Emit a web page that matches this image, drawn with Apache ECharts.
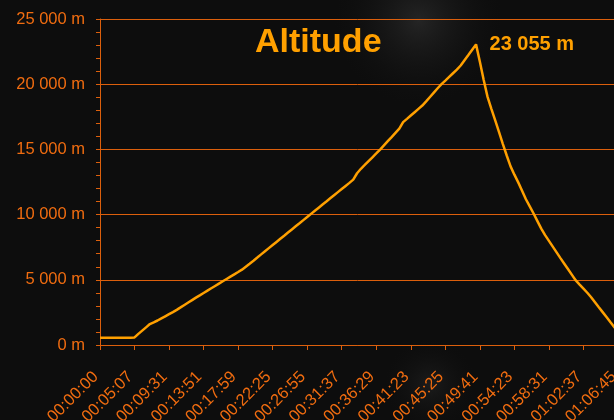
<!DOCTYPE html>
<html>
<head>
<meta charset="utf-8">
<script src="https://cdn.jsdelivr.net/npm/echarts@6/dist/echarts.min.js"></script>
<style>
html,body{margin:0;padding:0;background:#0d0d0d;}
#chart{width:614px;height:420px;}
</style>
</head>
<body>
<div id="chart"></div>
<script>
// Tick labels shown every 9 samples along the time axis
const tickLabels = ['00:00:00','00:05:07','00:09:31','00:13:51','00:17:59','00:22:25','00:26:55','00:31:37','00:36:29','00:41:23','00:45:25','00:49:41','00:54:23','00:58:31','01:02:37','01:06:45'];
const samplesPerTick = 9;
// Altitude samples in metres
const altitude = [
560,560,560,560,560,560,560,560,560,580,
851,1103,1355,1607,1740,1879,2040,2201,2362,2523,
2696,2883,3071,3258,3445,3630,3809,3989,4169,4348,
4528,4708,4887,5065,5242,5419,5595,5777,6005,6234,
6464,6705,6948,7189,7429,7668,7906,8145,8383,8622,
8861,9100,9338,9577,9815,10054,10292,10531,10770,11008,
11247,11485,11723,11959,12195,12431,12683,13172,13513,13807,
14102,14396,14691,14989,15308,15628,15947,16267,16587,17089,
17343,17598,17853,18108,18363,18685,19020,19355,19690,19999,
20278,20558,20838,21118,21433,21838,22243,22650,23055,21719,
20316,19026,18111,17228,16330,15406,14534,13698,13063,12471,
11834,11175,10627,10083,9503,8922,8426,7985,7544,7103,
6664,6236,5808,5379,4950,4629,4319,4008,3666,3283,
2900,2521,2143,1764,1388,1012
];
const categories = altitude.map((_, i) => String(i));
const titleText = 'Altitude';

const FONT = "'Liberation Sans', Arial, sans-serif";
const LABEL = '#f06c10';
const GRID = '#dc5f0c';
const LINE = '#ffa000';
const fmt = v => String(Math.round(v)).replace(/\B(?=(\d{3})+(?!\d))/g, ' ');

const chart = echarts.init(document.getElementById('chart'), null, {renderer: 'canvas'});
chart.setOption({
  backgroundColor: '#0d0d0d',
  animation: false,
  graphic: [
    {type: 'rect', z: -10, silent: true, shape: {x: 180, y: 0, width: 434, height: 140},
     style: {fill: new echarts.graphic.RadialGradient(0.55, 0.15, 0.6, [
       {offset: 0, color: 'rgba(60,60,60,0.5)'}, {offset: 1, color: 'rgba(20,20,20,0)'}])}},
    {type: 'rect', z: -10, silent: true, shape: {x: 340, y: 330, width: 180, height: 90},
     style: {fill: new echarts.graphic.RadialGradient(0.5, 0.6, 0.5, [
       {offset: 0, color: 'rgba(50,50,50,0.4)'}, {offset: 1, color: 'rgba(20,20,20,0)'}])}}
  ],
  title: {
    text: titleText, left: 255, top: 26, padding: 0,
    textStyle: {color: LINE, fontFamily: FONT, fontSize: 34, fontWeight: 'bold'}
  },
  grid: {left: 100, right: -4, top: 19, bottom: 75, containLabel: false, outerBoundsMode: 'none'},
  xAxis: {
    type: 'category', data: categories, boundaryGap: false,
    axisLine: {show: true, lineStyle: {color: GRID, width: 1}},
    axisTick: {show: true, interval: samplesPerTick - 1, length: 5, lineStyle: {color: GRID}},
    axisLabel: {
      interval: samplesPerTick - 1, rotate: 45, margin: 25, padding: [0, 6, 11, 0],
      color: LABEL, fontFamily: FONT, fontSize: 16.5,
      formatter: (v, i) => tickLabels[Math.round(i / samplesPerTick)] || ''
    },
    splitLine: {show: false}
  },
  yAxis: {
    type: 'value', min: 0, max: 25000, interval: 5000,
    axisLine: {show: true, lineStyle: {color: GRID, width: 1}},
    axisTick: {show: true, length: 4, lineStyle: {color: GRID}},
    minorTick: {show: true, splitNumber: 5, length: 4, lineStyle: {color: GRID}},
    axisLabel: {margin: 15, color: LABEL, fontFamily: FONT, fontSize: 16.5, formatter: v => fmt(v) + ' m'},
    splitLine: {show: true, lineStyle: {color: GRID, width: 1}}
  },
  series: [{
    type: 'line', data: altitude, showSymbol: false, smooth: false,
    lineStyle: {color: LINE, width: 2.5}, itemStyle: {color: LINE},
    markPoint: {
      symbol: 'circle', symbolSize: 1, itemStyle: {color: 'rgba(0,0,0,0)'},
      data: [{type: 'max'}],
      label: {show: true, position: 'right', distance: 13, color: LINE, fontFamily: FONT,
        fontSize: 20, fontWeight: 'bold', formatter: p => fmt(p.value) + ' m'}
    }
  }]
});
</script>
</body>
</html>
